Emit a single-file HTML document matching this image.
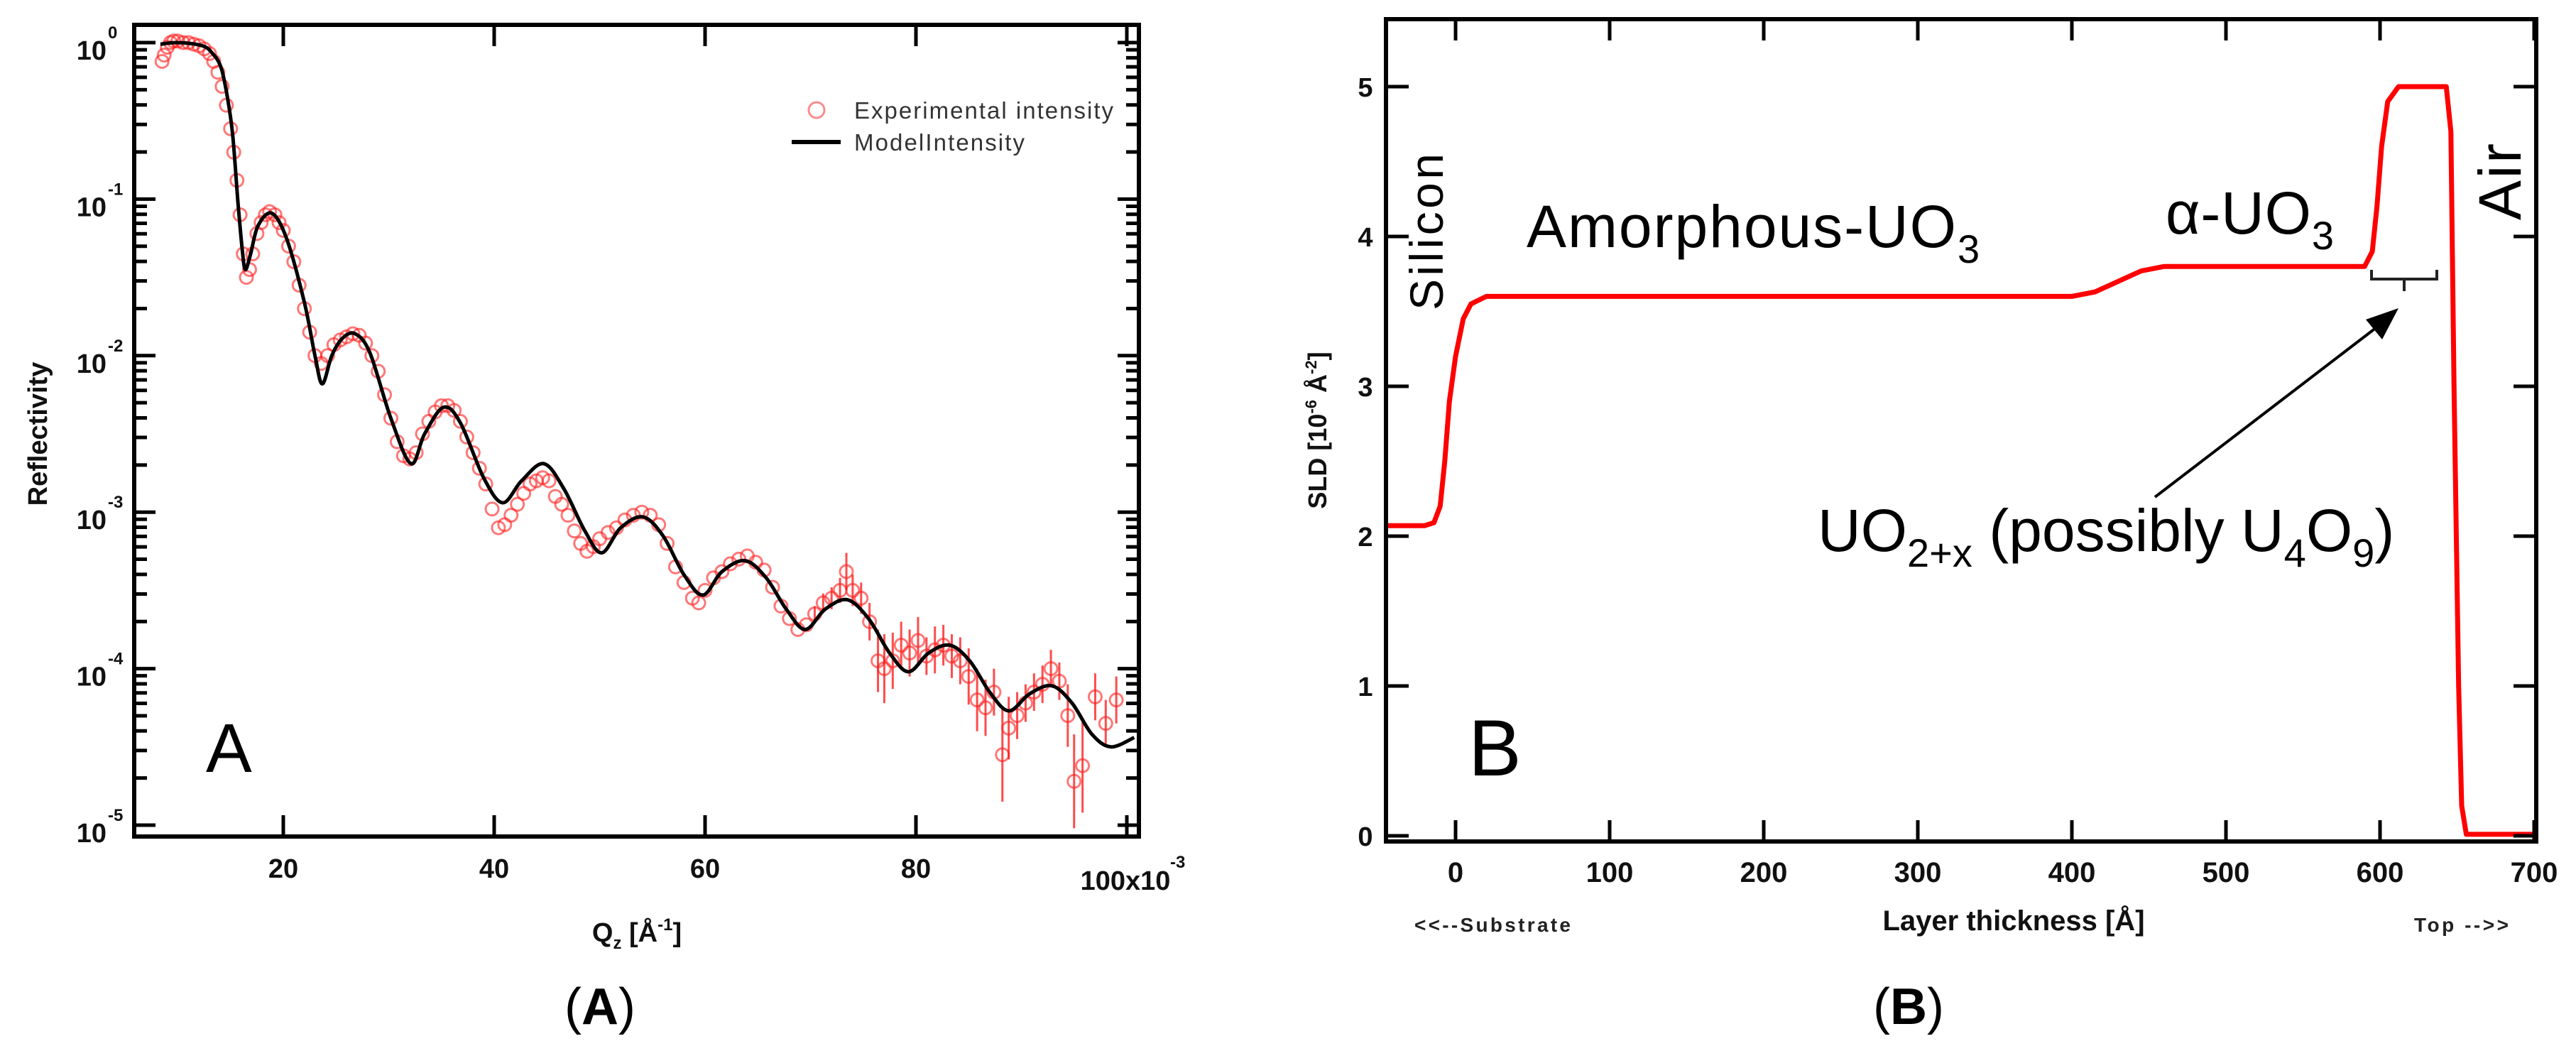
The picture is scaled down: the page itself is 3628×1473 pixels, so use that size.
<!DOCTYPE html>
<html>
<head>
<meta charset="utf-8">
<style>
  html,body{margin:0;padding:0;background:#fff;}
  svg{display:block;}
  text{font-family:"Liberation Sans","DejaVu Sans",sans-serif;}
</style>
</head>
<body>
<svg id="fig" width="3628" height="1473" viewBox="0 0 3628 1473" xmlns="http://www.w3.org/2000/svg">
  <rect x="0" y="0" width="3628" height="1473" fill="#fff"/>
  <g id="panelA"></g>
  <g id="panelB"></g>
</svg>
<script>
// ---------- Panel A data ----------
const aXTicks = [20, 40, 60, 80];
const aXTickLabels = ["20", "40", "60", "80"];
const aYDecades = [0, -1, -2, -3, -4, -5];
const modelQ = [8.35,10,12.3,13.3,14.1,14.7,15.2,15.7,16.1,16.4,16.9,17.6,18.9,20.3,22,23.0,23.7,24.6,25.6,26.8,28.2,30.2,32.1,33.4,35.2,36.8,39.0,40.8,42.6,44.7,46.6,48.6,50.2,52.0,54.1,56.0,58.0,59.8,61.6,63.8,65.8,67.7,69.5,71.4,73.5,75.5,77.5,79.3,81.2,83.2,85.1,87.0,88.8,90.8,92.9,94.8,96.7,98.5,100.7];
const modelLogR = [-0.01,0.0,-0.02,-0.07,-0.16,-0.35,-0.59,-1.02,-1.32,-1.45,-1.35,-1.17,-1.09,-1.25,-1.66,-2.0,-2.18,-2.0,-1.89,-1.86,-1.98,-2.4,-2.69,-2.5,-2.33,-2.43,-2.78,-2.94,-2.8,-2.69,-2.85,-3.12,-3.26,-3.1,-3.03,-3.15,-3.4,-3.53,-3.38,-3.31,-3.42,-3.62,-3.75,-3.62,-3.56,-3.68,-3.9,-4.02,-3.9,-3.85,-3.95,-4.15,-4.27,-4.16,-4.11,-4.22,-4.42,-4.5,-4.44];
const expQ = [8.5,8.7,9.0,9.3,9.6,10,10.5,11,11.5,12,12.5,13,13.4,13.8,14.2,14.6,15.0,15.3,15.6,15.9,16.2,16.5,16.8,17.1,17.5,17.9,18.3,18.7,19.2,19.6,20.0,20.5,21.0,21.5,22.0,22.5,23.0,23.6,24.2,24.8,25.4,26.0,26.6,27.2,27.8,28.4,29.0,29.6,30.2,30.8,31.4,32.0,32.6,33.2,33.8,34.4,35.0,35.6,36.2,36.8,37.4,38.0,38.6,39.2,39.8,40.4,41.0,41.6,42.2,42.8,43.4,44.0,44.6,45.2,45.8,46.4,47.0,47.6,48.2,48.8,49.4,50.0,50.8,51.6,52.4,53.2,54.0,54.8,55.6,56.4,57.2,58.0,58.8,59.4,60.0,60.8,61.6,62.4,63.2,64.0,64.8,65.6,66.4,67.2,68.0,68.8,69.6,70.4,71.2,72.0,72.8,73.4,74.0,74.8,75.6,76.4,77.0,77.8,78.6,79.4,80.2,81.0,81.8,82.6,83.4,84.2,85.0,85.8,86.6,87.4,88.2,88.8,89.6,90.4,91.2,92.0,92.8,93.6,94.4,95.0,95.8,97.0,98.0,99.0];
const expLogR = [-0.12,-0.08,-0.03,0.0,0.01,0.01,0.0,0.0,-0.01,-0.02,-0.04,-0.07,-0.12,-0.19,-0.28,-0.4,-0.55,-0.7,-0.88,-1.1,-1.35,-1.5,-1.45,-1.35,-1.22,-1.15,-1.1,-1.08,-1.1,-1.15,-1.2,-1.3,-1.4,-1.55,-1.7,-1.85,-2.0,-2.05,-2.0,-1.93,-1.9,-1.88,-1.86,-1.87,-1.92,-2.0,-2.1,-2.25,-2.4,-2.55,-2.64,-2.66,-2.62,-2.5,-2.42,-2.36,-2.32,-2.32,-2.35,-2.42,-2.52,-2.62,-2.72,-2.82,-2.98,-3.1,-3.08,-3.02,-2.95,-2.88,-2.82,-2.8,-2.78,-2.8,-2.9,-2.95,-3.02,-3.12,-3.2,-3.25,-3.22,-3.17,-3.13,-3.1,-3.05,-3.02,-3.0,-3.02,-3.08,-3.2,-3.35,-3.45,-3.55,-3.58,-3.5,-3.42,-3.38,-3.33,-3.3,-3.28,-3.32,-3.37,-3.48,-3.6,-3.68,-3.75,-3.72,-3.65,-3.58,-3.55,-3.5,-3.38,-3.5,-3.55,-3.7,-3.95,-4.0,-3.95,-3.85,-3.9,-3.82,-3.92,-3.88,-3.85,-3.92,-3.95,-4.05,-4.2,-4.25,-4.15,-4.55,-4.38,-4.3,-4.22,-4.15,-4.1,-4.0,-4.08,-4.3,-4.72,-4.62,-4.18,-4.35,-4.2];
const expErrLog = [0,0,0,0,0,0,0,0,0,0,0,0,0,0,0,0,0,0,0,0,0,0,0,0,0,0,0,0,0,0,0,0,0,0,0,0,0,0,0,0,0,0,0,0,0,0,0,0,0,0,0,0,0,0,0,0,0,0,0,0,0,0,0,0,0,0,0,0,0,0,0,0,0,0,0,0,0,0,0,0,0,0,0,0,0,0,0,0,0,0,0,0,0,0,0,0,0,0,0,0,0,0,0,0,0,0,0,0.05,0.06,0.07,0.08,0.12,0.1,0.1,0.12,0.2,0.22,0.18,0.15,0.15,0.15,0.12,0.15,0.13,0.14,0.15,0.18,0.2,0.18,0.15,0.3,0.2,0.15,0.12,0.12,0.12,0.12,0.12,0.2,0.3,0.3,0.15,0.15,0.15];

// ---------- Panel B data ----------
const bXTicks = [0, 100, 200, 300, 400, 500, 600, 700];
const bYTicks = [0, 1, 2, 3, 4, 5];
const sldX = [-45,-20,-14,-10,-7,-4,0,5,10,20,400,415,430,445,460,590,595,598,601,605,612,643,646,648,651,653,656,700];
const sldY = [2.07,2.07,2.09,2.2,2.5,2.9,3.2,3.45,3.55,3.6,3.6,3.63,3.7,3.77,3.8,3.8,3.9,4.2,4.6,4.9,5.0,5.0,4.7,3.0,1.0,0.2,0.01,0.01];

const SVGNS = "http://www.w3.org/2000/svg";
function mk(tag, attrs, parent) {
  const e = document.createElementNS(SVGNS, tag);
  for (const k in attrs) e.setAttribute(k, attrs[k]);
  parent.appendChild(e);
  return e;
}
function smoothPath(pts) {
  let d = "M" + pts[0][0].toFixed(1) + "," + pts[0][1].toFixed(1);
  for (let i = 0; i < pts.length - 1; i++) {
    const p0 = pts[Math.max(0, i - 1)], p1 = pts[i], p2 = pts[i + 1], p3 = pts[Math.min(pts.length - 1, i + 2)];
    const c1x = p1[0] + (p2[0] - p0[0]) / 6, c1y = p1[1] + (p2[1] - p0[1]) / 6;
    const c2x = p2[0] - (p3[0] - p1[0]) / 6, c2y = p2[1] - (p3[1] - p1[1]) / 6;
    d += " C" + c1x.toFixed(1) + "," + c1y.toFixed(1) + " " + c2x.toFixed(1) + "," + c2y.toFixed(1) + " " + p2[0].toFixed(1) + "," + p2[1].toFixed(1);
  }
  return d;
}

function draw() {
// ================= PANEL A =================
const A = document.getElementById("panelA");
const aL = 189, aR = 1604, aT = 35, aB = 1178;
const xA = q => 399 + (q - 20) * 14.85;
const yA = lg => 60 - lg * 220.4;

const defs = mk("defs", {}, document.getElementById("fig"));
const cpA = mk("clipPath", {id: "clipA"}, defs);
mk("rect", {x: aL, y: aT, width: aR - aL, height: aB - aT}, cpA);
const cpB = mk("clipPath", {id: "clipB"}, defs);
mk("rect", {x: 1952, y: 27, width: 3572 - 1952, height: 1185 - 27}, cpB);

const expG = mk("g", {"clip-path": "url(#clipA)"}, A);


for (let i = 0; i < expQ.length; i++) {
  const cx = xA(expQ[i]), cy = yA(expLogR[i]);
  if (expErrLog[i] > 0) {
    const eb = mk("line", {x1: cx, x2: cx, y1: yA(expLogR[i] + expErrLog[i]), y2: yA(expLogR[i] - expErrLog[i]), stroke: "rgba(255,0,0,0.7)", "stroke-width": 3}, expG);
    
    
  }
  const c = mk("circle", {cx: cx, cy: cy, r: 9, fill: "none", stroke: "rgba(255,30,30,0.6)", "stroke-width": 3}, expG);
  
  
}
const mPts = modelQ.map((q, i) => [xA(q), yA(modelLogR[i])]);
const mLine = mk("path", {d: smoothPath(mPts), fill: "none", stroke: "#000", "stroke-width": 5, "clip-path": "url(#clipA)"}, A);



const fA = mk("rect", {x: aL, y: aT, width: aR - aL, height: aB - aT, fill: "none", stroke: "#000", "stroke-width": 6}, A);



const ytA = mk("g", {stroke: "#000", "stroke-width": 5}, A);


for (const d of aYDecades) {
  const y = yA(d);
  mk("line", {x1: aL, x2: aL + 30, y1: y, y2: y}, ytA);
  mk("line", {x1: aR - 30, x2: aR, y1: y, y2: y}, ytA);
  if (d < 0) {
    for (let m = 2; m <= 9; m++) {
      const ym = yA(d + Math.log10(m));
      mk("line", {x1: aL, x2: aL + 18, y1: ym, y2: ym}, ytA);
      mk("line", {x1: aR - 18, x2: aR, y1: ym, y2: ym}, ytA);
    }
  }
  const t = mk("text", {x: 150, y: y + 24, "text-anchor": "end", "font-size": 38, "font-weight": "bold", fill: "#111"}, A);
  
  
  t.textContent = "10";
  const s = mk("text", {x: 152, y: y - 6, "font-size": 24, "font-weight": "bold", fill: "#111"}, A);
  
  
  s.textContent = d === 0 ? "0" : String(d);
}
const xtA = mk("g", {stroke: "#000", "stroke-width": 5}, A);


aXTicks.concat([100]).forEach((q) => {
  const x = xA(q);
  mk("line", {x1: x, x2: x, y1: aB, y2: aB - 30}, xtA);
  mk("line", {x1: x, x2: x, y1: aT, y2: aT + 30}, xtA);
});
aXTicks.forEach((q, i) => {
  const t = mk("text", {x: xA(q), y: 1236, "text-anchor": "middle", "font-size": 38, "font-weight": "bold", fill: "#111"}, A);
  
  
  t.textContent = aXTickLabels[i];
});
const t100 = mk("text", {x: 1585, y: 1253, "text-anchor": "middle", "font-size": 38, "font-weight": "bold", fill: "#111"}, A);


t100.textContent = "100x10";
const t100e = mk("text", {x: 1648, y: 1222, "font-size": 24, "font-weight": "bold", fill: "#111"}, A);


t100e.textContent = "-3";

const yTitleA = mk("text", {x: 0, y: 0, transform: "translate(66,611) rotate(-90)", "text-anchor": "middle", "font-size": 38, "font-weight": "bold", fill: "#111"}, A);


yTitleA.textContent = "Reflectivity";
const xTitleA = mk("text", {x: 897, y: 1326, "text-anchor": "middle", "font-size": 38, "font-weight": "bold", fill: "#111"}, A);


xTitleA.innerHTML = 'Q<tspan font-size="24" dy="10">z</tspan><tspan dy="-10"> [Å</tspan><tspan font-size="24" dy="-16">-1</tspan><tspan dy="16">]</tspan>';

const legA = mk("g", {}, A);


const lc = mk("circle", {cx: 1150, cy: 155, r: 11, fill: "none", stroke: "rgba(255,60,60,0.6)", "stroke-width": 3}, legA);


const lt1 = mk("text", {x: 1203, y: 167, "font-size": 33, fill: "#333", textLength: 365}, legA);


lt1.textContent = "Experimental intensity";
const ll = mk("line", {x1: 1115, x2: 1184, y1: 200, y2: 200, stroke: "#000", "stroke-width": 6}, legA);


const lt2 = mk("text", {x: 1203, y: 212, "font-size": 33, fill: "#333", textLength: 240}, legA);


lt2.textContent = "ModelIntensity";

const labA = mk("text", {x: 290, y: 1087, "font-size": 97, fill: "#000"}, A);


labA.textContent = "A";
const capA = mk("text", {x: 845, y: 1442, "text-anchor": "middle", "font-size": 72, "font-family": "Liberation Serif, serif", fill: "#000"}, A);


capA.innerHTML = '(<tspan font-weight="bold">A</tspan>)';

// ================= PANEL B =================
const B = document.getElementById("panelB");
const bL = 1952, bR = 3572, bT = 27, bBot = 1185;
const xB = v => 2050 + v * 2.17;
const yB = s => 1177 - s * 211;

const sPts = sldX.map((v, i) => [xB(v), yB(sldY[i])]);
let sd = "M" + sPts[0][0] + "," + sPts[0][1];
for (let i = 1; i < sPts.length; i++) sd += " L" + sPts[i][0].toFixed(1) + "," + sPts[i][1].toFixed(1);
const sldLine = mk("path", {d: sd, fill: "none", stroke: "#ff0000", "stroke-width": 7, "stroke-linejoin": "round", "clip-path": "url(#clipB)"}, B);



const fB = mk("rect", {x: bL, y: bT, width: bR - bL, height: bBot - bT, fill: "none", stroke: "#000", "stroke-width": 6}, B);



const ytB = mk("g", {stroke: "#000", "stroke-width": 5}, B);


for (const v of bYTicks) {
  const y = yB(v);
  mk("line", {x1: bL, x2: bL + 32, y1: y, y2: y}, ytB);
  mk("line", {x1: bR - 32, x2: bR, y1: y, y2: y}, ytB);
  const t = mk("text", {x: 1923, y: y + 14, "text-anchor": "middle", "font-size": 38, "font-weight": "bold", fill: "#111"}, B);
  
  
  t.textContent = String(v);
}
const xtB = mk("g", {stroke: "#000", "stroke-width": 5}, B);


for (const v of bXTicks) {
  const x = xB(v);
  mk("line", {x1: x, x2: x, y1: bBot, y2: bBot - 30}, xtB);
  mk("line", {x1: x, x2: x, y1: bT, y2: bT + 30}, xtB);
  const t = mk("text", {x: x, y: 1242, "text-anchor": "middle", "font-size": 40, "font-weight": "bold", fill: "#111"}, B);
  
  
  t.textContent = String(v);
}

const yTitleB = mk("text", {x: 0, y: 0, transform: "translate(1868,606) rotate(-90)", "text-anchor": "middle", "font-size": 36, "font-weight": "bold", fill: "#111"}, B);


yTitleB.innerHTML = 'SLD [10<tspan font-size="22" dy="-14">-6</tspan><tspan dy="14"> Å</tspan><tspan font-size="22" dy="-14">-2</tspan><tspan dy="14">]</tspan>';
const xTitleB = mk("text", {x: 2836, y: 1310, "text-anchor": "middle", "font-size": 40, "font-weight": "bold", fill: "#111"}, B);


xTitleB.textContent = "Layer thickness [Å]";
const subLbl = mk("text", {x: 1992, y: 1312, "font-size": 28, "font-weight": "bold", fill: "#222", textLength: 220}, B);


subLbl.textContent = "<<--Substrate";
const topLbl = mk("text", {x: 3400, y: 1312, "font-size": 28, "font-weight": "bold", fill: "#222", textLength: 133}, B);


topLbl.textContent = "Top -->>";

const silLbl = mk("text", {x: 0, y: 0, transform: "translate(2032,437) rotate(-90)", "font-size": 66, fill: "#000", textLength: 221}, B);


silLbl.textContent = "Silicon";
const amoLbl = mk("text", {x: 2150, y: 348, "font-size": 84, fill: "#000"}, B);


amoLbl.innerHTML = '<tspan textLength="605">Amorphous-UO</tspan><tspan font-size="56" dy="22">3</tspan>';
const alpLbl = mk("text", {x: 3050, y: 329, "font-size": 84, fill: "#000"}, B);


alpLbl.innerHTML = '<tspan textLength="205">α-UO</tspan><tspan font-size="56" dy="22">3</tspan>';
const airLbl = mk("text", {x: 0, y: 0, transform: "translate(3550,310) rotate(-90)", "font-size": 84, fill: "#000", textLength: 108}, B);


airLbl.textContent = "Air";
const uoLbl = mk("text", {x: 2560, y: 776, "font-size": 84, fill: "#000"}, B);


uoLbl.innerHTML = 'UO<tspan font-size="56" dy="22">2+x</tspan><tspan dy="-22"> (possibly U</tspan><tspan font-size="56" dy="22">4</tspan><tspan dy="-22">O</tspan><tspan font-size="56" dy="22">9</tspan><tspan dy="-22">)</tspan>';

const brk = mk("path", {d: "M3340,380 L3340,393 L3432,393 L3432,380 M3386,393 L3386,410", fill: "none", stroke: "#222", "stroke-width": 4}, B);


const arw = mk("line", {x1: 3035, y1: 700, x2: 3355, y2: 455, stroke: "#000", "stroke-width": 4}, B);


const arh = mk("polygon", {points: "3378,434 3332,450 3355,478", fill: "#000"}, B);



const labB = mk("text", {x: 2068, y: 1092, "font-size": 112, fill: "#000"}, B);


labB.textContent = "B";
const capB = mk("text", {x: 2688, y: 1442, "text-anchor": "middle", "font-size": 72, "font-family": "Liberation Serif, serif", fill: "#000"}, B);


capB.innerHTML = '(<tspan font-weight="bold">B</tspan>)';
}
draw();
</script>
</body>
</html>
